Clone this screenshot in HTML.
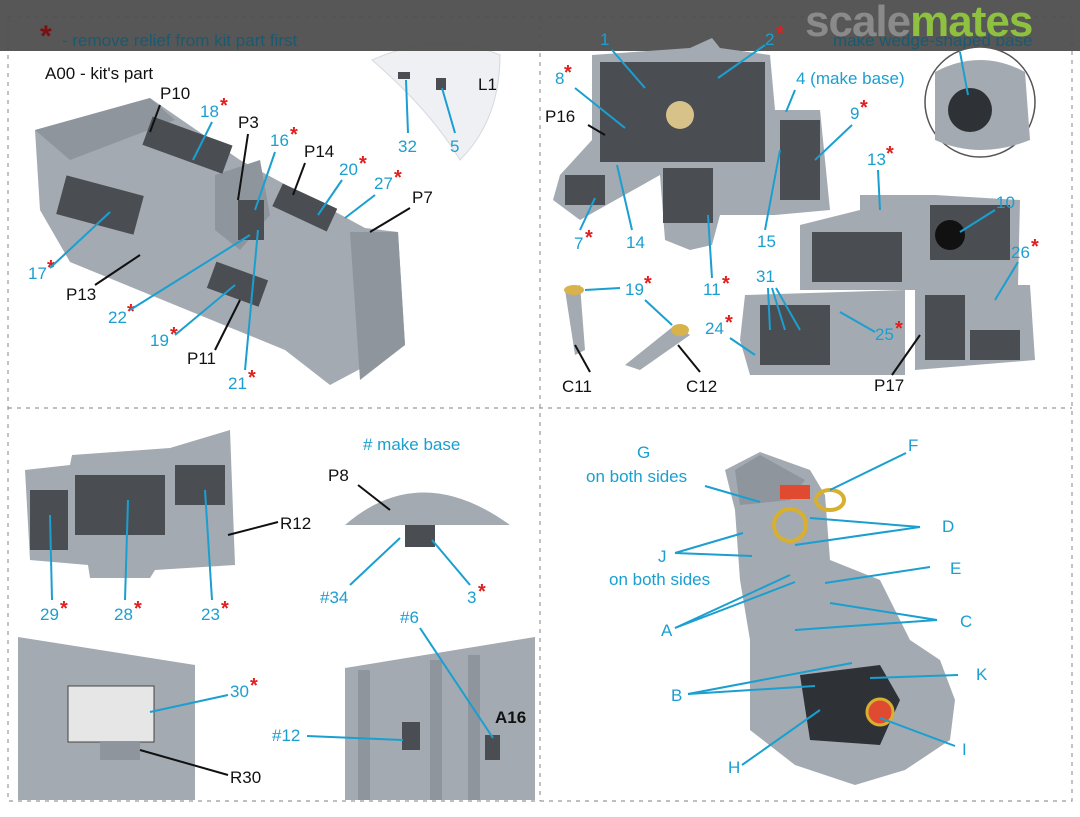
<!DOCTYPE html>
<html><head><meta charset="utf-8"><style>
html,body{margin:0;padding:0;background:#fff;}
svg{display:block;}
text{font-family:"Liberation Sans",sans-serif;font-size:17px;}
.b{fill:#1a9fd0;}
.k{fill:#111;}
.r{fill:#e02020;font-size:20px;font-weight:bold;}
.l{stroke:#1a9fd0;stroke-width:2;fill:none;}
.lk{stroke:#111;stroke-width:2;fill:none;}
.g{fill:#a3aab1;}
.gd{fill:#8e959c;}
.d{fill:#4a4e53;}
</style></head><body>
<svg width="1080" height="817" viewBox="0 0 1080 817">
<g stroke="#999" stroke-width="1.2" stroke-dasharray="4,5" fill="none">
<rect x="8" y="17" width="1064" height="784"/>
<line x1="540" y1="17" x2="540" y2="801"/>
<line x1="8" y1="408" x2="1072" y2="408"/>
</g>

<polygon class="g" points="35,130 150,98 240,160 365,228 398,232 405,345 330,385 285,350 70,262 40,210"/>
<polygon class="gd" points="35,130 150,98 175,120 70,160"/>
<polygon class="gd" points="215,175 260,160 270,215 240,250 215,230"/>
<polygon class="gd" points="350,232 398,232 405,345 360,380"/>
<rect class="d" x="145" y="130" width="85" height="30" transform="rotate(20 187 145)"/>
<rect class="d" x="60" y="185" width="80" height="40" transform="rotate(15 100 205)"/>
<rect class="d" x="275" y="195" width="60" height="25" transform="rotate(25 305 207)"/>
<rect class="d" x="210" y="270" width="55" height="28" transform="rotate(20 237 284)"/>
<rect class="d" x="238" y="200" width="26" height="40"/>
<path d="M372,60 Q440,30 500,55 Q500,120 460,160 Q430,110 372,60 Z" fill="#eef0f3" stroke="#d5d9dd"/>
<rect class="d" x="398" y="72" width="12" height="7"/><rect class="d" x="436" y="78" width="10" height="12"/>

<rect x="0" y="0" width="1080" height="51" fill="#4e4e4e" opacity="0.95"/>
<text x="40" y="46" style="font-size:30px;font-weight:bold" fill="#7a1010">*</text>
<text x="62" y="46" fill="#1a5a70">- remove relief from kit part first</text>
<text x="833" y="46" fill="#1a5a70">make wedge-shaped base</text>
<text x="805" y="36" style="font-size:44px;font-weight:bold;letter-spacing:-1px" fill="#8a8a8a">scale<tspan fill="#8dc13f">mates</tspan></text>

<text class="k" x="45" y="79">A00 - kit's part</text>
<text class="k" x="160" y="99">P10</text><line class="lk" x1="160" y1="105" x2="150" y2="132"/>
<text class="b" x="200" y="117">18</text><text class="r" x="220" y="112">*</text><line class="l" x1="212" y1="122" x2="193" y2="160"/>
<text class="k" x="238" y="128">P3</text><line class="lk" x1="248" y1="134" x2="238" y2="200"/>
<text class="b" x="270" y="146">16</text><text class="r" x="290" y="141">*</text><line class="l" x1="275" y1="152" x2="255" y2="210"/>
<text class="k" x="304" y="157">P14</text><line class="lk" x1="305" y1="163" x2="293" y2="195"/>
<text class="b" x="339" y="175">20</text><text class="r" x="359" y="170">*</text><line class="l" x1="342" y1="180" x2="318" y2="215"/>
<text class="b" x="374" y="189">27</text><text class="r" x="394" y="184">*</text><line class="l" x1="375" y1="195" x2="345" y2="218"/>
<text class="k" x="412" y="203">P7</text><line class="lk" x1="410" y1="208" x2="370" y2="232"/>
<text class="b" x="28" y="279">17</text><text class="r" x="47" y="274">*</text><line class="l" x1="50" y1="268" x2="110" y2="212"/>
<text class="k" x="66" y="300">P13</text><line class="lk" x1="95" y1="285" x2="140" y2="255"/>
<text class="b" x="108" y="323">22</text><text class="r" x="127" y="318">*</text><line class="l" x1="130" y1="310" x2="250" y2="235"/>
<text class="b" x="150" y="346">19</text><text class="r" x="170" y="341">*</text><line class="l" x1="175" y1="335" x2="235" y2="285"/>
<text class="k" x="187" y="364">P11</text><line class="lk" x1="215" y1="350" x2="240" y2="300"/>
<text class="b" x="228" y="389">21</text><text class="r" x="248" y="384">*</text><line class="l" x1="245" y1="370" x2="258" y2="230"/>
<text class="b" x="398" y="152">32</text><line class="l" x1="406" y1="80" x2="408" y2="133"/>
<text class="b" x="450" y="152">5</text><line class="l" x1="442" y1="88" x2="455" y2="133"/>
<text class="k" x="478" y="90">L1</text>

<polygon class="g" points="592,55 690,48 712,38 720,48 770,55 775,110 820,110 830,210 775,215 720,215 712,245 690,250 665,240 660,175 580,220 553,200 560,175 592,140"/>
<rect class="d" x="600" y="62" width="165" height="100"/>
<rect class="d" x="663" y="168" width="50" height="55"/>
<rect class="d" x="565" y="175" width="40" height="30"/>
<rect class="d" x="780" y="120" width="40" height="80"/>
<circle cx="680" cy="115" r="14" fill="#d7c28a"/>
<circle cx="980" cy="102" r="55" fill="#fff" stroke="#555" stroke-width="1.5"/>
<path d="M935,72 Q980,48 1025,72 L1030,140 Q980,160 935,140 Z" class="g"/>
<circle cx="970" cy="110" r="22" fill="#2e3236"/>
<text class="b" x="600" y="45">1</text><line class="l" x1="612" y1="50" x2="645" y2="88"/>
<text class="b" x="765" y="45">2</text><text class="r" x="776" y="40">*</text><line class="l" x1="765" y1="45" x2="718" y2="78"/>
<text class="b" x="555" y="84">8</text><text class="r" x="564" y="79">*</text><line class="l" x1="575" y1="88" x2="625" y2="128"/>
<text class="b" x="796" y="84">4 (make base)</text><line class="l" x1="795" y1="90" x2="786" y2="112"/>
<text class="b" x="850" y="119">9</text><text class="r" x="860" y="114">*</text><line class="l" x1="852" y1="125" x2="815" y2="160"/>
<text class="k" x="545" y="122">P16</text><line class="lk" x1="588" y1="125" x2="605" y2="135"/>
<text class="b" x="574" y="249">7</text><text class="r" x="585" y="244">*</text><line class="l" x1="580" y1="230" x2="595" y2="198"/>
<text class="b" x="626" y="248">14</text><line class="l" x1="632" y1="230" x2="617" y2="165"/>
<text class="b" x="703" y="295">11</text><text class="r" x="722" y="290">*</text><line class="l" x1="712" y1="278" x2="708" y2="215"/>
<text class="b" x="757" y="247">15</text><line class="l" x1="765" y1="230" x2="780" y2="150"/>
<line class="l" x1="960" y1="52" x2="968" y2="95"/>
<polygon class="g" points="800,225 860,210 860,195 935,195 1020,200 1018,285 915,290 905,290 800,290"/>
<rect class="d" x="812" y="232" width="90" height="50"/><rect class="d" x="930" y="205" width="80" height="55"/>
<circle cx="950" cy="235" r="15" fill="#111"/>
<polygon class="g" points="745,295 905,290 905,375 750,375 740,340"/>
<rect class="d" x="760" y="305" width="70" height="60"/>
<polygon class="g" points="915,285 1030,285 1035,360 915,370"/>
<rect class="d" x="925" y="295" width="40" height="65"/><rect class="d" x="970" y="330" width="50" height="30"/>
<text class="b" x="867" y="165">13</text><text class="r" x="886" y="160">*</text><line class="l" x1="878" y1="170" x2="880" y2="210"/>
<text class="b" x="996" y="208">10</text><line class="l" x1="995" y1="210" x2="960" y2="232"/>
<text class="b" x="1011" y="258">26</text><text class="r" x="1031" y="253">*</text><line class="l" x1="1018" y1="262" x2="995" y2="300"/>
<text class="b" x="756" y="282">31</text><line class="l" x1="768" y1="288" x2="770" y2="330"/><line class="l" x1="772" y1="288" x2="785" y2="330"/><line class="l" x1="776" y1="288" x2="800" y2="330"/>
<text class="b" x="875" y="340">25</text><text class="r" x="895" y="335">*</text><line class="l" x1="875" y1="332" x2="840" y2="312"/>
<text class="b" x="705" y="334">24</text><text class="r" x="725" y="329">*</text><line class="l" x1="730" y1="338" x2="755" y2="355"/>
<text class="k" x="874" y="391">P17</text><line class="lk" x1="892" y1="375" x2="920" y2="335"/>
<polygon class="g" points="565,290 580,285 585,350 575,355"/><ellipse cx="574" cy="290" rx="10" ry="5" fill="#d8b24a"/>
<polygon class="g" points="675,325 690,335 640,370 625,365"/><ellipse cx="680" cy="330" rx="9" ry="6" fill="#d8b24a"/>
<text class="b" x="625" y="295">19</text><text class="r" x="644" y="290">*</text>
<line class="l" x1="585" y1="290" x2="620" y2="288"/><line class="l" x1="645" y1="300" x2="672" y2="325"/>
<text class="k" x="562" y="392">C11</text><line class="lk" x1="590" y1="372" x2="575" y2="345"/>
<text class="k" x="686" y="392">C12</text><line class="lk" x1="700" y1="372" x2="678" y2="345"/>

<polygon class="g" points="25,470 70,465 72,455 170,448 230,430 235,565 155,570 150,578 90,578 88,565 30,560"/>
<rect class="d" x="30" y="490" width="38" height="60"/>
<rect class="d" x="75" y="475" width="90" height="60"/>
<rect class="d" x="175" y="465" width="50" height="40"/>
<text class="k" x="280" y="529">R12</text><line class="lk" x1="278" y1="522" x2="228" y2="535"/>
<text class="b" x="40" y="620">29</text><text class="r" x="60" y="615">*</text><line class="l" x1="52" y1="600" x2="50" y2="515"/>
<text class="b" x="114" y="620">28</text><text class="r" x="134" y="615">*</text><line class="l" x1="125" y1="600" x2="128" y2="500"/>
<text class="b" x="201" y="620">23</text><text class="r" x="221" y="615">*</text><line class="l" x1="212" y1="600" x2="205" y2="490"/>
<text class="b" x="363" y="450">#  make base</text>
<path d="M345,525 Q420,460 510,525 Z" class="g"/>
<rect class="d" x="405" y="525" width="30" height="22"/>
<text class="k" x="328" y="481">P8</text><line class="lk" x1="358" y1="485" x2="390" y2="510"/>
<text class="b" x="320" y="603">#34</text><line class="l" x1="350" y1="585" x2="400" y2="538"/>
<text class="b" x="467" y="603">3</text><text class="r" x="478" y="598">*</text><line class="l" x1="470" y1="585" x2="432" y2="540"/>

<polygon class="g" points="18,637 195,665 195,800 18,800"/>
<rect x="68" y="686" width="86" height="56" style="fill:#e6e6e6" stroke="#444"/>
<rect x="100" y="742" width="40" height="18" class="gd"/>
<text class="b" x="230" y="697">30</text><text class="r" x="250" y="692">*</text><line class="l" x1="228" y1="695" x2="150" y2="712"/>
<text class="k" x="230" y="783">R30</text><line class="lk" x1="228" y1="775" x2="140" y2="750"/>
<polygon class="g" points="345,668 535,637 535,800 345,800"/>
<rect class="gd" x="358" y="670" width="12" height="130"/><rect class="gd" x="430" y="660" width="12" height="140"/><rect class="gd" x="468" y="655" width="12" height="145"/>
<rect class="d" x="402" y="722" width="18" height="28"/><rect class="d" x="485" y="735" width="15" height="25"/>
<text class="k" x="495" y="723" style="font-weight:bold">A16</text>
<text class="b" x="400" y="623">#6</text><line class="l" x1="420" y1="628" x2="493" y2="738"/>
<text class="b" x="272" y="741">#12</text><line class="l" x1="307" y1="736" x2="403" y2="740"/>

<polygon class="g" points="725,470 760,452 810,470 825,495 830,560 880,580 910,640 940,660 955,700 950,740 905,770 855,785 795,765 750,730 750,640 740,580 735,510"/>
<polygon class="gd" points="735,470 760,455 805,480 790,500 740,505"/>
<polygon fill="#2e3236" points="800,675 880,665 900,700 880,745 810,740"/>
<rect x="780" y="485" width="30" height="14" fill="#e04a30"/>
<circle cx="790" cy="525" r="16" fill="none" stroke="#d8b030" stroke-width="4"/>
<ellipse cx="830" cy="500" rx="14" ry="10" fill="none" stroke="#d8b030" stroke-width="4"/>
<circle cx="880" cy="712" r="13" fill="#e04a30" stroke="#d8b030" stroke-width="3"/>
<g class="b" style="font-size:17px">
<text x="637" y="458">G</text><text x="586" y="482">on both sides</text>
<text x="658" y="562">J</text><text x="609" y="585">on both sides</text>
<text x="661" y="636">A</text><text x="671" y="701">B</text><text x="728" y="773">H</text>
<text x="908" y="451">F</text><text x="942" y="532">D</text><text x="950" y="574">E</text>
<text x="960" y="627">C</text><text x="976" y="680">K</text><text x="962" y="755">I</text>
</g>
<line class="l" x1="705" y1="486" x2="760" y2="502"/>
<line class="l" x1="675" y1="553" x2="743" y2="533"/><line class="l" x1="675" y1="553" x2="752" y2="556"/>
<line class="l" x1="675" y1="628" x2="790" y2="575"/><line class="l" x1="675" y1="628" x2="795" y2="582"/>
<line class="l" x1="688" y1="694" x2="852" y2="663"/><line class="l" x1="688" y1="694" x2="815" y2="686"/>
<line class="l" x1="742" y1="765" x2="820" y2="710"/>
<line class="l" x1="906" y1="453" x2="830" y2="490"/>
<line class="l" x1="920" y1="527" x2="810" y2="518"/><line class="l" x1="920" y1="527" x2="795" y2="545"/>
<line class="l" x1="930" y1="567" x2="825" y2="583"/>
<line class="l" x1="937" y1="620" x2="830" y2="603"/><line class="l" x1="937" y1="620" x2="795" y2="630"/>
<line class="l" x1="958" y1="675" x2="870" y2="678"/>
<line class="l" x1="955" y1="746" x2="880" y2="718"/>
</svg>
</body></html>
